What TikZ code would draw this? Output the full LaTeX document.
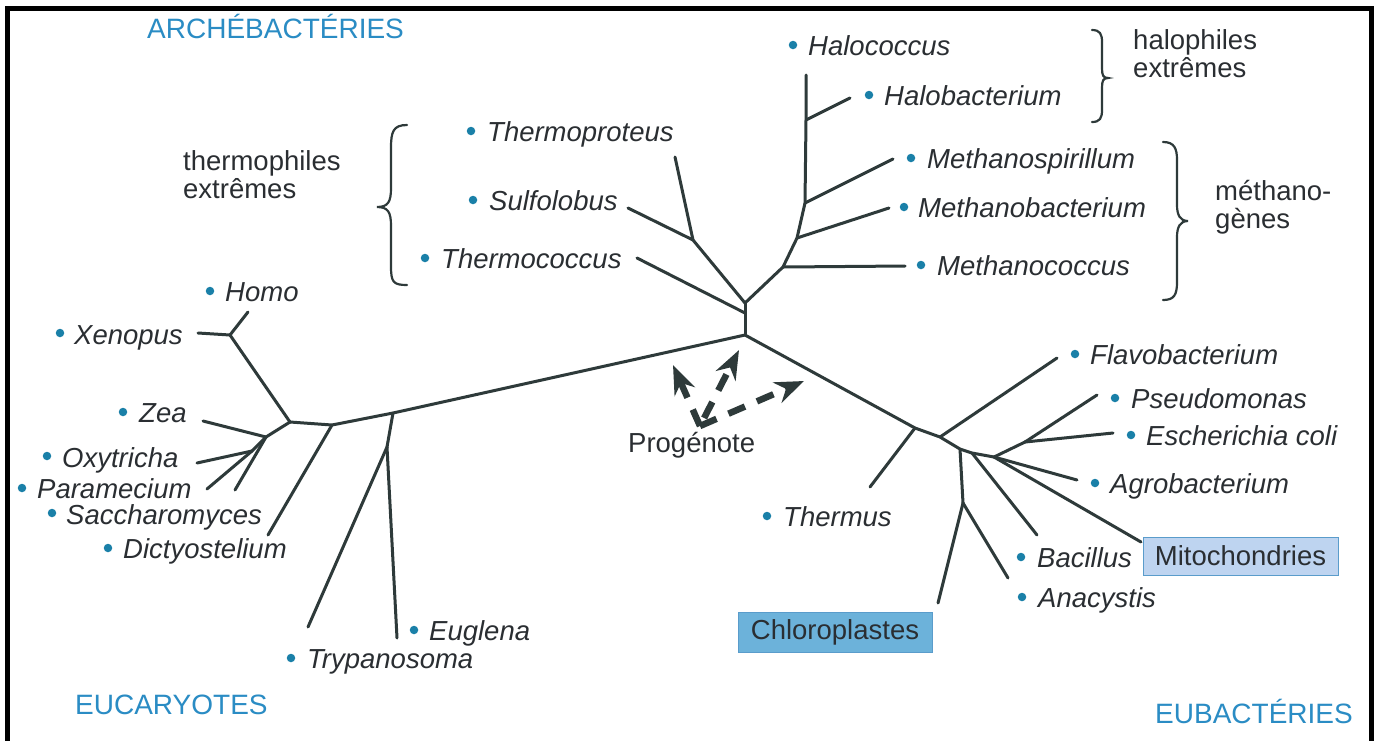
\documentclass[tikz,border=0pt]{standalone}
\usepackage{fontspec}
\setmainfont{Liberation Sans}
\usetikzlibrary{arrows.meta}
\definecolor{treecol}{HTML}{2E3A3A}
\definecolor{txtcol}{HTML}{2A2E32}
\definecolor{domblue}{HTML}{2A8CC4}
\definecolor{dotblue}{HTML}{1A80A8}
\definecolor{mitofill}{HTML}{BED4F0}
\definecolor{chlorofill}{HTML}{6CB2DA}
\definecolor{boxedge}{HTML}{5A9CCB}
\begin{document}
\begin{tikzpicture}[x=1pt,y=-1pt,
  branch/.style={draw=treecol,line width=3pt,line cap=round,line join=round},
  species/.style={anchor=base west,inner sep=0pt,text=txtcol,font=\fontsize{27.5}{30}\selectfont\itshape},
  grouplabel/.style={anchor=north west,inner sep=0pt,text=txtcol,align=left,font=\fontsize{27.5}{28}\selectfont},
  domainlabel/.style={anchor=base west,inner sep=0pt,text=domblue,font=\fontsize{28}{30}\selectfont},
  leafdot/.style={circle,fill=dotblue,draw=none,inner sep=0pt,minimum size=8.5pt},
  organelle/.style={draw=boxedge,line width=1pt,inner sep=0pt,text=txtcol,font=\fontsize{27.5}{30}\selectfont},
  originarrow/.style={draw=treecol,line width=6.5pt,dash pattern=on 18pt off 13pt,-{Stealth[length=29pt,width=22pt]}},
  bracestyle/.style={draw=treecol,line width=2.2pt,line cap=round},
  frameline/.style={draw=black,line width=5pt}
]
\useasboundingbox (0,0) rectangle (1378,740);
\fill[white] (0,0) rectangle (1378,740);
\draw[frameline] (7.5,745) -- (7.5,8.5) -- (1371.5,8.5) -- (1371.5,745);

% ---------- tree coordinates ----------
\coordinate (C) at (745,335);
\coordinate (A2) at (745,313);
\coordinate (A) at (745,303);
\coordinate (T1) at (693,240);
\coordinate (eThermoproteus) at (675,157);
\coordinate (eSulfolobus) at (628,208);
\coordinate (eThermococcus) at (637,258);
\coordinate (M1) at (783,267);
\coordinate (M2) at (797,238);
\coordinate (M3) at (805,203);
\coordinate (H1) at (806,120);
\coordinate (eHalococcus) at (806,75);
\coordinate (eHalobacterium) at (850,98);
\coordinate (eMethanospirillum) at (893,159);
\coordinate (eMethanobacterium) at (889,208);
\coordinate (eMethanococcus) at (905,266);
% eukaryotes
\coordinate (Eu1) at (393,413);
\coordinate (Eu2) at (332,425);
\coordinate (E3) at (290,422);
\coordinate (XH) at (230,335);
\coordinate (eHomo) at (248,312);
\coordinate (eXenopus) at (198,333);
\coordinate (E4) at (266,437);
\coordinate (E5) at (252,451);
\coordinate (eZea) at (203,421);
\coordinate (eOxytricha) at (197,463);
\coordinate (eParamecium) at (207,489);
\coordinate (eSaccharomyces) at (235,490);
\coordinate (eDictyostelium) at (268,535);
\coordinate (Eu6) at (387,447);
\coordinate (eTrypanosoma) at (308,627);
\coordinate (eEuglena) at (397,638);
% eubacteria
\coordinate (B1) at (915,428);
\coordinate (B2) at (940,437);
\coordinate (B3) at (960,449);
\coordinate (B4) at (972,453);
\coordinate (B5) at (994,457);
\coordinate (P) at (1025,442);
\coordinate (B7) at (963,503);
\coordinate (eThermus) at (870,487);
\coordinate (eFlavobacterium) at (1057,358);
\coordinate (ePseudomonas) at (1097,395);
\coordinate (eEscherichia) at (1113,433);
\coordinate (eAgrobacterium) at (1077,480);
\coordinate (eBacillus) at (1037,535);
\coordinate (eAnacystis) at (1008,578);
\coordinate (eChloro) at (938,603);
\coordinate (eMito) at (1141,542);

% ---------- branches ----------
% archaea
\draw[branch] (C) -- (A2) -- (A);
\draw[branch] (A) -- (T1);
\draw[branch] (T1) -- (eThermoproteus);
\draw[branch] (T1) -- (eSulfolobus);
\draw[branch] (A2) -- (eThermococcus);
\draw[branch] (A) -- (M1) -- (M2) -- (M3) -- (H1) -- (eHalococcus);
\draw[branch] (H1) -- (eHalobacterium);
\draw[branch] (M3) -- (eMethanospirillum);
\draw[branch] (M2) -- (eMethanobacterium);
\draw[branch] (M1) -- (eMethanococcus);
% eukaryotes
\draw[branch] (C) -- (Eu1) -- (Eu2) -- (E3);
\draw[branch] (E3) -- (XH);
\draw[branch] (XH) -- (eHomo);
\draw[branch] (XH) -- (eXenopus);
\draw[branch] (E3) -- (E4);
\draw[branch] (E4) -- (eZea);
\draw[branch] (E4) -- (E5);
\draw[branch] (E5) -- (eOxytricha);
\draw[branch] (E5) -- (eParamecium);
\draw[branch] (E4) -- (eSaccharomyces);
\draw[branch] (Eu2) -- (eDictyostelium);
\draw[branch] (Eu1) -- (Eu6);
\draw[branch] (Eu6) -- (eTrypanosoma);
\draw[branch] (Eu6) -- (eEuglena);
% eubacteria
\draw[branch] (C) -- (B1) -- (B2) -- (B3) -- (B4) -- (B5);
\draw[branch] (B1) -- (eThermus);
\draw[branch] (B2) -- (eFlavobacterium);
\draw[branch] (B3) -- (B7);
\draw[branch] (B7) -- (eChloro);
\draw[branch] (B7) -- (eAnacystis);
\draw[branch] (B4) -- (eBacillus);
\draw[branch] (B5) -- (P);
\draw[branch] (P) -- (ePseudomonas);
\draw[branch] (P) -- (eEscherichia);
\draw[branch] (B5) -- (eAgrobacterium);
\draw[branch] (B5) -- (eMito);

% ---------- organelle boxes ----------
\node[organelle,fill=mitofill,minimum width=195pt,minimum height=38pt] (mito) at (1240.5,556) {Mitochondries};
\node[organelle,fill=chlorofill,minimum width=194pt,minimum height=40pt] (chloro) at (835,632) {Chloroplastes};

% ---------- species ----------
\node[leafdot] (dHomo) at (210,291) {};            \node[species] (Homo) at (225,301) {Homo};
\node[leafdot] (dXenopus) at (60,333) {};          \node[species] (Xenopus) at (74,344) {Xenopus};
\node[leafdot] (dZea) at (123,412) {};             \node[species] (Zea) at (139,422) {Zea};
\node[leafdot] (dOxytricha) at (47,456) {};        \node[species] (Oxytricha) at (62,467) {Oxytricha};
\node[leafdot] (dParamecium) at (22,488) {};       \node[species] (Paramecium) at (37,498) {Paramecium};
\node[leafdot] (dSaccharomyces) at (52,513) {};    \node[species] (Saccharomyces) at (66,524) {Saccharomyces};
\node[leafdot] (dDictyostelium) at (108,548) {};   \node[species] (Dictyostelium) at (123,558) {Dictyostelium};
\node[leafdot] (dTrypanosoma) at (291,658) {};     \node[species] (Trypanosoma) at (307,668) {Trypanosoma};
\node[leafdot] (dEuglena) at (414,630) {};         \node[species] (Euglena) at (429,640) {Euglena};
\node[leafdot] (dThermoproteus) at (471,131) {};   \node[species] (Thermoproteus) at (487,141) {Thermoproteus};
\node[leafdot] (dSulfolobus) at (473,200) {};      \node[species] (Sulfolobus) at (489,210) {Sulfolobus};
\node[leafdot] (dThermococcus) at (425,258) {};    \node[species] (Thermococcus) at (441,268) {Thermococcus};
\node[leafdot] (dHalococcus) at (793,45) {};       \node[species] (Halococcus) at (808,55) {Halococcus};
\node[leafdot] (dHalobacterium) at (869,95) {};    \node[species] (Halobacterium) at (884,105) {Halobacterium};
\node[leafdot] (dMethanospirillum) at (911,158) {};\node[species] (Methanospirillum) at (927,168) {Methanospirillum};
\node[leafdot] (dMethanobacterium) at (904,207) {};\node[species] (Methanobacterium) at (918,217) {Methanobacterium};
\node[leafdot] (dMethanococcus) at (921,265) {};   \node[species] (Methanococcus) at (937,275) {Methanococcus};
\node[leafdot] (dFlavobacterium) at (1075,354) {}; \node[species] (Flavobacterium) at (1090,364) {Flavobacterium};
\node[leafdot] (dPseudomonas) at (1115,398) {};    \node[species] (Pseudomonas) at (1131,408) {Pseudomonas};
\node[leafdot] (dEscherichia) at (1131,435) {};    \node[species] (Escherichia) at (1146,445) {Escherichia coli};
\node[leafdot] (dAgrobacterium) at (1095,483) {};  \node[species] (Agrobacterium) at (1110,493) {Agrobacterium};
\node[leafdot] (dThermus) at (767,516) {};         \node[species] (Thermus) at (783,526) {Thermus};
\node[leafdot] (dBacillus) at (1021,557) {};       \node[species] (Bacillus) at (1037,567) {Bacillus};
\node[leafdot] (dAnacystis) at (1022,597) {};      \node[species] (Anacystis) at (1038,607) {Anacystis};

% ---------- group labels and braces ----------
\node[grouplabel] (thermo) at (183,150) {thermophiles\\extrêmes};
\node[grouplabel] (halo) at (1133,29) {halophiles\\extrêmes};
\node[grouplabel] (metha) at (1215,180) {méthano-\\gènes};
\draw[bracestyle] (407,125) .. controls (393,125) and (391,132) .. (391,148) -- (391,188)
   .. controls (391,202) and (388,207) .. (377,207) .. controls (388,207) and (391,212) .. (391,226)
   -- (391,266) .. controls (391,282) and (393,285) .. (407,285);
\draw[bracestyle] (1092,30) .. controls (1100,30) and (1102,34) .. (1102,42) -- (1102,68)
   .. controls (1102,75) and (1103,78) .. (1108,78) .. controls (1103,78) and (1102,81) .. (1102,88)
   -- (1102,110) .. controls (1102,118) and (1100,122) .. (1092,122);
\draw[bracestyle] (1163,142) .. controls (1174,142) and (1177,148) .. (1177,160) -- (1177,205)
   .. controls (1177,215) and (1180,221) .. (1188,221) .. controls (1180,221) and (1177,227) .. (1177,237)
   -- (1177,282) .. controls (1177,295) and (1174,300) .. (1163,300);

% ---------- domain labels ----------
\node[domainlabel] (arche) at (147,38) {ARCHÉBACTÉRIES};
\node[domainlabel] (euca) at (75,714) {EUCARYOTES};
\node[domainlabel] (euba) at (1155,723) {EUBACTÉRIES};

% ---------- progenote ----------
\coordinate (prog) at (700,426);
\coordinate (tipA) at (673,365);
\coordinate (tipB) at (739,350);
\coordinate (tipC) at (804,381);
\draw[originarrow] (prog) -- (tipA);
\draw[originarrow,dash phase=22pt] (prog) -- (tipB);
\draw[originarrow] (prog) -- (tipC);
\node[anchor=base west,inner sep=0pt,text=txtcol,font=\fontsize{27.5}{30}\selectfont] (progtxt) at (628,452) {Progénote};
\end{tikzpicture}
\end{document}
